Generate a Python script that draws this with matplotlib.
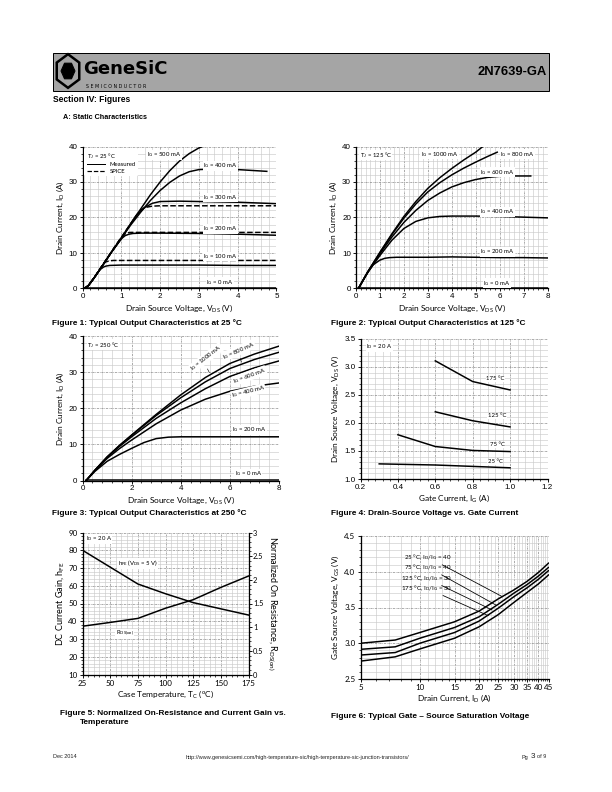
import matplotlib
matplotlib.use('Agg')
import matplotlib.pyplot as plt
from matplotlib.ticker import (MultipleLocator, FixedLocator, FixedFormatter,
                               NullFormatter, FormatStrFormatter, FuncFormatter)
from matplotlib.patches import Rectangle, RegularPolygon
from matplotlib.lines import Line2D

plt.rcParams['mathtext.default'] = 'regular'
plt.rcParams['font.family'] = ['Lato', 'DejaVu Sans']

# ---------------- data ----------------
# Figure 1 (25 C) : VDS (V), ID (A)
f1_v500 = [0.05, 0.15, 0.3, 0.5, 0.75, 1.0, 1.25, 1.5, 1.75, 2.0, 2.25, 2.5, 2.75, 3.0, 3.1]
f1_i500 = [0, 0.8, 3.0, 6.2, 10.3, 14.3, 18.4, 22.4, 26.4, 30.0, 33.2, 35.9, 38.0, 39.6, 40.0]
f1_v400 = [0.05, 0.15, 0.3, 0.5, 0.75, 1.0, 1.25, 1.5, 1.75, 2.0, 2.25, 2.5, 2.75, 3.0, 3.5, 4.0, 4.75]
f1_i400 = [0, 0.8, 3.0, 6.2, 10.3, 14.2, 18.0, 21.5, 24.8, 27.6, 29.9, 31.7, 32.9, 33.5, 33.7, 33.5, 33.0]
f1_v300m = [0.05, 0.15, 0.3, 0.5, 0.75, 1.0, 1.2, 1.4, 1.6, 1.8, 2.0, 2.5, 3.0, 4.0, 5.0]
f1_i300m = [0, 0.8, 3.0, 6.2, 10.3, 14.0, 17.5, 20.7, 22.8, 24.0, 24.5, 24.6, 24.5, 24.3, 23.9]
f1_v300s = [0.05, 0.15, 0.3, 0.5, 0.75, 1.0, 1.2, 1.4, 1.5, 1.6, 1.8, 2.0, 3.0, 4.0, 5.0]
f1_i300s = [0, 0.8, 3.0, 6.3, 10.4, 14.4, 17.6, 20.8, 22.0, 22.8, 23.2, 23.3, 23.3, 23.3, 23.3]
f1_v200m = [0.05, 0.15, 0.3, 0.5, 0.75, 1.0, 1.1, 1.2, 1.3, 1.5, 2.0, 3.0, 4.0, 5.0]
f1_i200m = [0, 0.8, 3.0, 6.2, 10.3, 14.0, 14.9, 15.3, 15.5, 15.6, 15.6, 15.5, 15.3, 15.0]
f1_v200s = [0.05, 0.15, 0.3, 0.5, 0.75, 1.0, 1.1, 1.15, 1.25, 1.5, 2.0, 3.0, 4.0, 5.0]
f1_i200s = [0, 0.8, 3.0, 6.3, 10.4, 14.4, 15.4, 15.7, 15.8, 15.8, 15.8, 15.8, 15.8, 15.8]
f1_v100m = [0.05, 0.15, 0.3, 0.45, 0.55, 0.6, 0.7, 1.0, 2.0, 3.0, 4.0, 5.0]
f1_i100m = [0, 0.8, 3.0, 5.3, 6.1, 6.3, 6.5, 6.6, 6.6, 6.6, 6.5, 6.5]
f1_v100s = [0.05, 0.15, 0.3, 0.45, 0.55, 0.6, 0.7, 0.8, 1.0, 2.0, 3.0, 4.0, 5.0]
f1_i100s = [0, 0.8, 3.0, 5.5, 7.0, 7.5, 7.8, 7.9, 7.9, 7.9, 7.9, 7.9, 7.9]
f1_v0 = [0.05, 5.0]
f1_i0 = [0.1, 0.1]

# Figure 2 (125 C)
f2_v1000 = [0.1, 0.5, 1, 1.5, 2, 2.5, 3, 3.5, 4, 4.5, 5, 5.3]
f2_i1000 = [0, 4.8, 10.2, 15.4, 20.3, 24.5, 28.2, 31.2, 33.8, 36.2, 38.4, 40.0]
f2_v800 = [0.1, 0.5, 1, 1.5, 2, 2.5, 3, 3.5, 4, 4.5, 5, 5.5, 5.9]
f2_i800 = [0, 4.8, 10.1, 15.2, 19.8, 23.8, 27.2, 29.8, 32.0, 33.9, 35.6, 37.2, 38.4]
f2_v600 = [0.1, 0.5, 1, 1.5, 2, 2.5, 3, 3.5, 4, 4.5, 5, 5.5, 6, 6.5, 7, 7.3]
f2_i600 = [0, 4.7, 9.8, 14.5, 18.6, 22.0, 24.8, 26.9, 28.6, 29.8, 30.7, 31.3, 31.6, 31.7, 31.7, 31.7]
f2_v400 = [0.1, 0.5, 1, 1.5, 2, 2.5, 3, 3.5, 4, 5, 6, 7, 8]
f2_i400 = [0, 4.6, 9.3, 13.6, 16.9, 18.9, 19.9, 20.3, 20.4, 20.4, 20.3, 20.1, 19.9]
f2_v200 = [0.1, 0.4, 0.7, 1.0, 1.2, 1.4, 1.7, 2, 3, 4, 5, 6, 7, 8]
f2_i200 = [0, 3.6, 6.6, 8.0, 8.5, 8.7, 8.8, 8.8, 8.8, 8.9, 8.8, 8.7, 8.7, 8.6]
f2_v0 = [0.1, 8.0]
f2_i0 = [0.1, 0.1]

# Figure 3 (250 C)
f3_v = [0.15, 0.5, 1, 1.5, 2, 3, 4, 5, 6, 7, 8]
f3_i1000 = [0, 2.8, 6.5, 9.7, 12.6, 18.3, 23.7, 28.5, 32.4, 35.0, 37.2]
f3_i800 = [0, 2.8, 6.5, 9.6, 12.5, 18.0, 22.9, 27.3, 31.0, 33.5, 35.5]
f3_i600 = [0, 2.8, 6.4, 9.4, 12.1, 17.2, 21.5, 25.4, 28.8, 31.2, 33.1]
f3_i400 = [0, 2.7, 6.1, 8.8, 11.2, 15.7, 19.5, 22.5, 24.7, 26.1, 27.0]
f3_v200 = [0.15, 0.5, 1, 1.5, 2, 2.5, 3, 3.5, 4, 5, 6, 7, 8]
f3_i200 = [0, 2.5, 5.3, 7.2, 8.9, 10.5, 11.6, 12.0, 12.1, 12.1, 12.1, 12.1, 12.1]
f3_v0 = [0.15, 8.0]
f3_i0 = [0.1, 0.1]

# Figure 4 : IG (A), VDS (V)
f4_ig175 = [0.6, 0.8, 1.0]
f4_vds175 = [3.11, 2.74, 2.59]
f4_ig125 = [0.6, 0.8, 1.0]
f4_vds125 = [2.20, 2.04, 1.93]
f4_ig75 = [0.4, 0.6, 0.8, 1.0]
f4_vds75 = [1.79, 1.58, 1.51, 1.49]
f4_ig25 = [0.3, 0.6, 1.0]
f4_vds25 = [1.27, 1.25, 1.20]

# Figure 5 : Tc (C)
f5_tc = [25, 50, 75, 100, 125, 150, 175]
f5_hfe = [80.0, 70.5, 61.0, 55.5, 50.5, 47.0, 43.5]
f5_rds = [1.02, 1.10, 1.185, 1.40, 1.58, 1.84, 2.08]

# Figure 6 : ID (A), VGS (V)
f6_id = [5, 7.5, 10, 15, 20, 25, 30, 35, 40, 45]
f6_v25 = [3.00, 3.045, 3.15, 3.30, 3.45, 3.62, 3.745, 3.865, 3.99, 4.12]
f6_v75 = [2.915, 2.95, 3.07, 3.22, 3.37, 3.545, 3.70, 3.82, 3.94, 4.06]
f6_v125 = [2.835, 2.87, 3.00, 3.15, 3.31, 3.49, 3.65, 3.775, 3.895, 4.015]
f6_v175 = [2.75, 2.81, 2.92, 3.07, 3.23, 3.40, 3.57, 3.71, 3.83, 3.955]
f6_ticks = [5, 10, 15, 20, 25, 30, 35, 40, 45]
f6_ticklabels = ['5', '10', '15', '20', '25', '30', '35', '40', '45']

# ---------------- layout helpers ----------------
W, H = 612, 792
fig = plt.figure(figsize=(W / 72, H / 72), dpi=72)


def box(l, t, r, b):
    return [l / W, 1 - b / H, (r - l) / W, (b - t) / H]


def fx(px):
    return px / W


def fy(py):
    return 1 - py / H


GMIN = '#c9c9c9'
GMAJ = '#8a8a8a'
LW = 1.5
AXL = 8.2
TS = 8
LBL = dict(fontsize=6, family=['Lato', 'DejaVu Sans'],
           bbox=dict(facecolor='white', edgecolor='none', pad=0.4))


def style(ax, xmaj, xmin, ymaj, ymin, tfont='Liberation Sans', ts=TS):
    if xmaj is not None:
        ax.xaxis.set_major_locator(MultipleLocator(xmaj))
        ax.xaxis.set_minor_locator(MultipleLocator(xmin))
    ax.yaxis.set_major_locator(MultipleLocator(ymaj))
    ax.yaxis.set_minor_locator(MultipleLocator(ymin))
    ax.grid(which='minor', color=GMIN, lw=0.6, ls='-')
    ax.grid(which='major', color=GMAJ, lw=0.7, ls=(0, (3, 1.2, 1, 1.2)))
    ax.set_axisbelow(True)
    ax.spines['top'].set_visible(False)
    ax.spines['right'].set_visible(False)
    ax.spines['left'].set_linewidth(1.3)
    ax.spines['bottom'].set_linewidth(1.3)
    ax.tick_params(which='major', direction='out', length=3, width=0.9,
                   labelsize=ts, labelfontfamily=tfont, pad=2)
    ax.tick_params(which='minor', direction='out', length=1.8, width=0.7)


def caption(px, py, s):
    fig.text(fx(px), fy(py), s, fontsize=8.3, fontweight='bold',
             family='Liberation Sans', va='center', ha='left')


# ---------------- header ----------------
fig.add_artist(Rectangle((fx(53), fy(91)), (549 - 53) / W, (91 - 53) / H,
                         transform=fig.transFigure, facecolor='#a5a5a5',
                         edgecolor='black', lw=1.0))
fig.add_artist(RegularPolygon((fx(68), fy(71)), 6, radius=13 / W,
                              transform=fig.transFigure, facecolor='none',
                              edgecolor='black', lw=2.5, orientation=0.0))
fig.add_artist(RegularPolygon((fx(68), fy(71)), 6, radius=7 / W,
                              transform=fig.transFigure, facecolor='black',
                              edgecolor='black', lw=1.0, orientation=0.5236))
fig.text(fx(83), fy(69), 'GeneSiC', fontsize=18, fontweight='bold',
         family='DejaVu Sans', va='center', ha='left', color='black')
fig.text(fx(86), fy(86), 'S E M I C O N D U C T O R', fontsize=4.8,
         family='DejaVu Sans', va='center', ha='left', color='black')
fig.text(fx(547), fy(72), '2N7639-GA', fontsize=13, fontweight='bold',
         family='Liberation Sans', va='center', ha='right')
fig.text(fx(53), fy(100), 'Section IV: Figures', fontsize=8.5, fontweight='bold',
         family='Liberation Sans', va='center', ha='left')
fig.text(fx(63), fy(117.5), 'A: Static Characteristics', fontsize=7.2,
         fontweight='bold', family='Liberation Sans', va='center', ha='left')

# ---------------- footer ----------------
fig.text(fx(53), fy(757), 'Dec 2014', fontsize=5.5, family='Liberation Sans',
         va='center', ha='left', color='#222222')
fig.text(fx(297), fy(757),
         'http://www.genesicsemi.com/high-temperature-sic/high-temperature-sic-junction-transistors/',
         fontsize=5.5, family='Liberation Sans', va='center', ha='center', color='#222222')
fig.text(fx(522), fy(757), 'Pg', fontsize=5.5, family='Liberation Sans',
         va='center', ha='left', color='#222222')
fig.text(fx(531), fy(757), '3', fontsize=8, family='Liberation Sans',
         va='center', ha='left', color='#222222')
fig.text(fx(537), fy(757), 'of 9', fontsize=5.5, family='Liberation Sans',
         va='center', ha='left', color='#222222')

# ---------------- Figure 1 ----------------
ax1 = fig.add_axes(box(82.5, 146.5, 276.5, 288.5))
ax1.plot(f1_v500, f1_i500, 'k-', lw=LW)
ax1.plot(f1_v400, f1_i400, 'k-', lw=LW)
ax1.plot(f1_v300m, f1_i300m, 'k-', lw=LW)
ax1.plot(f1_v300s, f1_i300s, 'k--', lw=LW)
ax1.plot(f1_v200m, f1_i200m, 'k-', lw=LW)
ax1.plot(f1_v200s, f1_i200s, 'k--', lw=LW)
ax1.plot(f1_v100m, f1_i100m, 'k-', lw=LW)
ax1.plot(f1_v100s, f1_i100s, 'k--', lw=LW)
ax1.plot(f1_v0, f1_i0, 'k-', lw=LW)
ax1.set_xlim(0, 5)
ax1.set_ylim(0, 40)
style(ax1, 1, 0.2, 10, 2)
ax1.set_xlabel('Drain Source Voltage, V$_{DS}$ (V)', fontsize=AXL, labelpad=2)
ax1.set_ylabel('Drain Current, I$_{D}$ (A)', fontsize=AXL, labelpad=3)
hl = [Line2D([], [], color='k', lw=1.0, ls='-'), Line2D([], [], color='k', lw=1.2, ls='--')]
leg = ax1.legend(hl, ['Measured', 'SPICE'], title='T$_{J}$ = 25 °C', loc='upper left',
                 bbox_to_anchor=(0.0, 1.0), fontsize=6, title_fontsize=6,
                 alignment='left', frameon=True, handlelength=3.0,
                 borderpad=0.4, labelspacing=0.25, handletextpad=0.8,
                 borderaxespad=0.3)
leg.get_frame().set_facecolor('white')
leg.get_frame().set_edgecolor('none')
leg.get_frame().set_alpha(1)
ax1.text(2.1, 37.6, 'I$_{G}$ = 500 mA', ha='center', va='center', **LBL)
ax1.text(3.55, 34.6, 'I$_{G}$ = 400 mA', ha='center', va='center', **LBL)
ax1.text(3.55, 25.6, 'I$_{G}$ = 300 mA', ha='center', va='center', **LBL)
ax1.text(3.55, 16.8, 'I$_{G}$ = 200 mA', ha='center', va='center', **LBL)
ax1.text(3.55, 9.0, 'I$_{G}$ = 100 mA', ha='center', va='center', **LBL)
ax1.text(3.55, 1.8, 'I$_{G}$ = 0 mA', ha='center', va='center', **LBL)
caption(52, 323.5, 'Figure 1: Typical Output Characteristics at 25 °C')

# ---------------- Figure 2 ----------------
ax2 = fig.add_axes(box(356, 146.5, 547.5, 288.5))
for v, i in [(f2_v1000, f2_i1000), (f2_v800, f2_i800), (f2_v600, f2_i600),
             (f2_v400, f2_i400), (f2_v200, f2_i200), (f2_v0, f2_i0)]:
    ax2.plot(v, i, 'k-', lw=LW)
ax2.set_xlim(0, 8)
ax2.set_ylim(0, 40)
style(ax2, 1, 0.2, 10, 2)
ax2.set_xlabel('Drain Source Voltage, V$_{DS}$ (V)', fontsize=AXL, labelpad=2)
ax2.set_ylabel('Drain Current, I$_{D}$ (A)', fontsize=AXL, labelpad=3)
ax2.text(0.15, 37.6, 'T$_{J}$ = 125 °C', ha='left', va='center', **LBL)
ax2.text(3.5, 37.8, 'I$_{G}$ = 1000 mA', ha='center', va='center', **LBL)
ax2.text(6.75, 37.8, 'I$_{G}$ = 800 mA', ha='center', va='center', **LBL)
ax2.text(5.9, 32.8, 'I$_{G}$ = 600 mA', ha='center', va='center', **LBL)
ax2.text(5.9, 21.6, 'I$_{G}$ = 400 mA', ha='center', va='center', **LBL)
ax2.text(5.9, 10.3, 'I$_{G}$ = 200 mA', ha='center', va='center', **LBL)
ax2.text(5.9, 1.5, 'I$_{G}$ = 0 mA', ha='center', va='center', **LBL)
caption(331, 323.5, 'Figure 2: Typical Output Characteristics at 125 °C')

# ---------------- Figure 3 ----------------
ax3 = fig.add_axes(box(82.5, 336, 279, 480.5))
for i in [f3_i1000, f3_i800, f3_i600, f3_i400]:
    ax3.plot(f3_v, i, 'k-', lw=LW)
ax3.plot(f3_v200, f3_i200, 'k-', lw=LW)
ax3.plot(f3_v0, f3_i0, 'k-', lw=LW)
ax3.set_xlim(0, 8)
ax3.set_ylim(0, 40)
style(ax3, 2, 0.4, 10, 2)
ax3.set_xlabel('Drain Source Voltage, V$_{DS}$ (V)', fontsize=AXL, labelpad=2)
ax3.set_ylabel('Drain Current, I$_{D}$ (A)', fontsize=AXL, labelpad=3)
ax3.text(0.2, 37.6, 'T$_{J}$ = 250 °C', ha='left', va='center', **LBL)
ax3.text(5.05, 34.0, 'I$_{G}$ = 1000 mA', ha='center', va='center', rotation=38, **LBL)
ax3.text(6.35, 36.0, 'I$_{G}$ = 800 mA', ha='center', va='center', rotation=24, **LBL)
ax3.text(6.8, 29.0, 'I$_{G}$ = 600 mA', ha='center', va='center', rotation=20, **LBL)
ax3.text(6.75, 24.5, 'I$_{G}$ = 400 mA', ha='center', va='center', rotation=14, **LBL)
ax3.text(6.8, 14.0, 'I$_{G}$ = 200 mA', ha='center', va='center', **LBL)
ax3.text(6.75, 1.8, 'I$_{G}$ = 0 mA', ha='center', va='center', **LBL)
ax3.annotate('', xy=(5.2, 29.4), xytext=(5.05, 31.4),
             arrowprops=dict(arrowstyle='-', lw=0.6, color='k'))
ax3.annotate('', xy=(6.5, 32.2), xytext=(6.4, 34.3),
             arrowprops=dict(arrowstyle='-', lw=0.6, color='k'))
caption(52, 513.5, 'Figure 3: Typical Output Characteristics at 250 °C')

# ---------------- Figure 4 ----------------
ax4 = fig.add_axes(box(360.5, 339, 547.5, 479))
ax4.plot(f4_ig175, f4_vds175, 'k-', lw=LW)
ax4.plot(f4_ig125, f4_vds125, 'k-', lw=LW)
ax4.plot(f4_ig75, f4_vds75, 'k-', lw=LW)
ax4.plot(f4_ig25, f4_vds25, 'k-', lw=LW)
ax4.set_xlim(0.2, 1.2)
ax4.set_ylim(1.0, 3.5)
style(ax4, 0.2, 0.04, 0.5, 0.1)
ax4.xaxis.set_major_formatter(FormatStrFormatter('%.1f'))
ax4.yaxis.set_major_formatter(FormatStrFormatter('%.1f'))
ax4.set_xlabel('Gate Current, I$_{G}$ (A)', fontsize=AXL, labelpad=2)
ax4.set_ylabel('Drain Source Voltage, V$_{DS}$ (V)', fontsize=AXL, labelpad=3)
ax4.text(0.23, 3.36, 'I$_{D}$ = 20 A', ha='left', va='center', **LBL)
ax4.text(0.92, 2.79, '175 °C', ha='center', va='center', **LBL)
ax4.text(0.93, 2.13, '125 °C', ha='center', va='center', **LBL)
ax4.text(0.93, 1.61, '75 °C', ha='center', va='center', **LBL)
ax4.text(0.92, 1.31, '25 °C', ha='center', va='center', **LBL)
caption(331, 513.5, 'Figure 4: Drain-Source Voltage vs. Gate Current')

# ---------------- Figure 5 ----------------
ax5 = fig.add_axes(box(82.5, 532.5, 248.5, 674.5))
ax5.plot(f5_tc, f5_hfe, 'k-', lw=LW)
ax5.set_xlim(25, 175)
ax5.set_ylim(10, 90)
style(ax5, 25, 5, 10, 2, tfont='Lato', ts=TS)
ax5r = ax5.twinx()
ax5r.plot(f5_tc, f5_rds, 'k-', lw=LW)
ax5r.set_ylim(0, 3)
ax5r.yaxis.set_major_locator(MultipleLocator(0.5))
ax5r.yaxis.set_minor_locator(MultipleLocator(0.1))
ax5r.yaxis.set_major_formatter(FuncFormatter(lambda v, p: ('%g' % v)))
ax5r.spines['top'].set_visible(False)
ax5r.spines['left'].set_visible(False)
ax5r.spines['bottom'].set_visible(False)
ax5r.spines['right'].set_linewidth(1.3)
ax5r.tick_params(which='major', direction='out', length=3, width=0.9, labelsize=7.5,
                 labelfontfamily='Lato', pad=1.5)
ax5r.tick_params(which='minor', direction='out', length=1.8, width=0.7)
ax5.set_xlabel('Case Temperature, T$_{C}$ ($^{o}$C)', fontsize=AXL, labelpad=2)
ax5.set_ylabel('DC Current Gain, h$_{FE}$', fontsize=9, labelpad=2)
ax5r.set_ylabel('Normalized On Resistance, R$_{DS(on)}$', fontsize=9,
                rotation=270, va='bottom', labelpad=3)
ax5.text(28, 86.5, 'I$_{D}$ = 20 A', ha='left', va='center', **LBL)
ax5.text(75, 72.5, 'h$_{FE}$ (V$_{DS}$ = 5 V)', ha='center', va='center', **LBL)
ax5.text(63, 33.0, 'R$_{DS(on)}$', ha='center', va='center', **LBL)
fig.text(fx(60), fy(713.5), 'Figure 5: Normalized On-Resistance and Current Gain vs.',
         fontsize=8.3, fontweight='bold', family='Liberation Sans', va='center', ha='left')
fig.text(fx(80), fy(722), 'Temperature', fontsize=8.3, fontweight='bold',
         family='Liberation Sans', va='center', ha='left')

# ---------------- Figure 6 ----------------
ax6 = fig.add_axes(box(360.5, 536, 548.5, 679))
ax6.plot(f6_id, f6_v25, 'k-', lw=LW)
ax6.plot(f6_id, f6_v75, 'k-', lw=LW)
ax6.plot(f6_id, f6_v125, 'k-', lw=LW)
ax6.plot(f6_id, f6_v175, 'k-', lw=LW)
ax6.set_xscale('log')
ax6.set_xlim(5, 45)
ax6.set_ylim(2.5, 4.5)
style(ax6, None, None, 0.5, 0.1, tfont='Lato', ts=TS)
ax6.xaxis.set_major_locator(FixedLocator(f6_ticks))
ax6.xaxis.set_major_formatter(FixedFormatter(f6_ticklabels))
ax6.xaxis.set_minor_locator(FixedLocator(list(range(5, 46))))
ax6.xaxis.set_minor_formatter(NullFormatter())
ax6.yaxis.set_major_formatter(FormatStrFormatter('%.1f'))
ax6.grid(which='minor', color=GMIN, lw=0.6, ls='-')
ax6.set_xlabel('Drain Current, I$_{D}$ (A)', fontsize=AXL, labelpad=2)
ax6.set_ylabel('Gate Source Voltage, V$_{GS}$ (V)', fontsize=AXL, labelpad=3)
ann = dict(ha='right', va='center', fontsize=6.2, family=['Lato', 'DejaVu Sans'],
           arrowprops=dict(arrowstyle='-', lw=0.8, color='k', shrinkA=1, shrinkB=0))
ax6.annotate('25 °C, I$_{D}$/I$_{G}$ = 40', xy=(26.3, 3.65), xytext=(14.6, 4.20), **ann)
ax6.annotate('75 °C, I$_{D}$/I$_{G}$ = 40', xy=(24.5, 3.53), xytext=(14.6, 4.06), **ann)
ax6.annotate('125 °C, I$_{D}$/I$_{G}$ = 30', xy=(23.3, 3.465), xytext=(14.6, 3.91), **ann)
ax6.annotate('175 °C, I$_{D}$/I$_{G}$ = 30', xy=(22.3, 3.385), xytext=(14.6, 3.77), **ann)
caption(331, 716, 'Figure 6: Typical Gate \u2013 Source Saturation Voltage')

fig.savefig('out.png', dpi=72)
